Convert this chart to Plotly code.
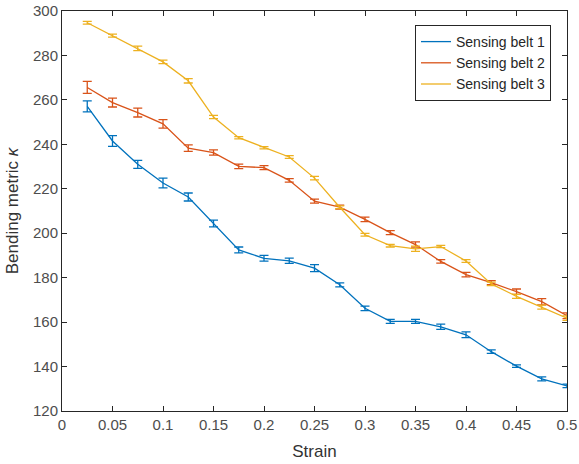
import plotly.graph_objects as go

strain = [0.025, 0.05, 0.075, 0.1, 0.125, 0.15, 0.175, 0.2, 0.225, 0.25,
          0.275, 0.3, 0.325, 0.35, 0.375, 0.4, 0.425, 0.45, 0.475, 0.5]

belt1 = [257.1, 241.5, 231.0, 222.6, 216.3, 204.4, 192.5, 188.7, 187.6, 184.3,
         176.8, 166.2, 160.3, 160.3, 157.9, 154.3, 146.7, 140.2, 134.5, 131.3]
belt1_err = [2.5, 2.4, 1.8, 2.2, 1.8, 1.5, 1.3, 1.3, 1.2, 1.6,
             0.9, 1.0, 0.9, 0.9, 1.2, 1.3, 0.8, 0.6, 0.9, 0.8]

belt2 = [265.6, 258.8, 254.3, 249.2, 238.3, 236.3, 230.1, 229.5, 223.8, 214.4,
         211.7, 206.2, 200.3, 194.9, 187.3, 181.4, 177.8, 173.7, 169.2, 162.9]
belt2_err = [2.7, 2.0, 2.0, 1.9, 1.5, 1.2, 1.0, 0.9, 0.8, 0.9,
             0.9, 1.0, 0.9, 1.2, 0.8, 1.0, 0.9, 1.2, 1.4, 1.3]

belt3 = [294.7, 288.9, 283.2, 277.1, 268.6, 252.3, 243.0, 238.5, 234.3, 224.8,
         211.7, 199.3, 194.4, 193.0, 194.0, 187.5, 177.2, 171.6, 166.7, 161.8]
belt3_err = [0.6, 0.7, 1.0, 0.8, 1.0, 0.7, 0.5, 0.5, 0.6, 0.8,
             0.6, 0.6, 0.6, 1.2, 0.5, 0.6, 0.8, 0.9, 0.9, 1.0]

x_ticks = [0, 0.05, 0.1, 0.15, 0.2, 0.25, 0.3, 0.35, 0.4, 0.45, 0.5]
x_tick_labels = ["0", "0.05", "0.1", "0.15", "0.2", "0.25", "0.3", "0.35", "0.4", "0.45", "0.5"]

names = ["Sensing belt 1", "Sensing belt 2", "Sensing belt 3"]
colors = ["#0072BD", "#D95319", "#EDB120"]

fig = go.Figure()
for name, vals, errs, col in zip(names, [belt1, belt2, belt3],
                                 [belt1_err, belt2_err, belt3_err], colors):
    fig.add_trace(go.Scatter(
        x=strain, y=vals, name=name, mode="lines",
        line=dict(color=col, width=1.3),
        error_y=dict(type="data", array=errs, visible=True,
                     color=col, thickness=1.3, width=4.5),
    ))

axis_common = dict(
    showline=True, linecolor="#262626", linewidth=1, mirror="ticks",
    ticks="inside", ticklen=5, tickcolor="#262626",
    showgrid=False, zeroline=False, automargin=False,
    tickfont=dict(family="Liberation Sans, Arial", size=15, color="#4d4d4d"),
)

fig.update_layout(
    width=579, height=464,
    margin=dict(l=62, r=12, t=11, b=53),
    paper_bgcolor="white", plot_bgcolor="white",
    font=dict(family="Liberation Sans, Arial", color="#262626"),
    xaxis=dict(range=[0, 0.5], tickvals=x_ticks, ticktext=x_tick_labels,
               title=dict(text="Strain", font=dict(size=17, color="#333333"), standoff=13),
               **axis_common),
    yaxis=dict(range=[120, 300], dtick=20,
               title=dict(text="Bending metric <i>κ</i>", font=dict(size=17, color="#333333"), standoff=10),
               **axis_common),
    legend=dict(x=0.699, y=0.965, xanchor="left", yanchor="top",
                bgcolor="white", bordercolor="#262626", borderwidth=1,
                font=dict(family="Liberation Sans, Arial", size=14, color="#262626"),
                tracegroupgap=0, itemwidth=30),
    showlegend=True,
)

fig.write_html("out.html", post_script="document.body.style.margin='0';",
               config={"displayModeBar": False})
